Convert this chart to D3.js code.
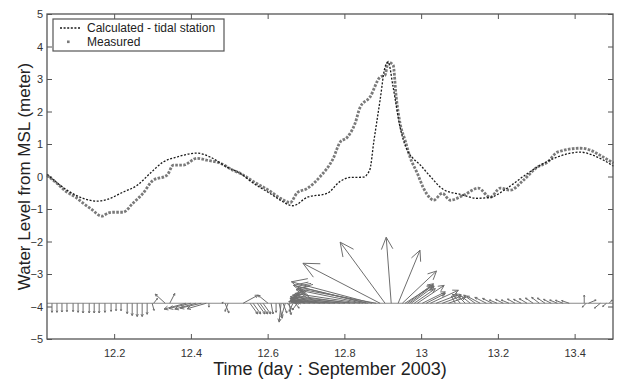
<!DOCTYPE html>
<html>
<head>
<meta charset="utf-8">
<script src="https://cdn.jsdelivr.net/npm/d3@7"></script>
<style>
  body { margin: 0; background: #fff; }
  svg { display: block; font-family: "Liberation Sans", Arial, sans-serif; }
</style>
</head>
<body>
<div id="chart"></div>
<script>
// time in days (September 2003), water level in metres
const calcTime = [12.025, 12.077, 12.119, 12.155, 12.181, 12.223, 12.260, 12.294, 12.327, 12.364, 12.416, 12.450, 12.494, 12.528, 12.562, 12.606, 12.633, 12.666, 12.703, 12.755, 12.789, 12.815, 12.849, 12.866, 12.877, 12.893, 12.906, 12.914, 12.927, 12.945, 12.964, 12.979, 12.998, 13.024, 13.058, 13.102, 13.146, 13.180, 13.224, 13.266, 13.311, 13.355, 13.415, 13.449, 13.501];
const calcLevel = [0.07, -0.42, -0.67, -0.76, -0.71, -0.48, -0.27, 0.10, 0.44, 0.60, 0.72, 0.60, 0.29, 0.10, -0.20, -0.52, -0.73, -0.90, -0.64, -0.52, -0.15, -0.03, -0.02, 0.20, 1.10, 2.35, 3.37, 3.52, 2.75, 1.52, 0.80, 0.56, 0.35, 0.0, -0.40, -0.55, -0.67, -0.64, -0.36, 0.0, 0.35, 0.60, 0.75, 0.65, 0.32];

const measTime = [12.025, 12.050, 12.077, 12.100, 12.119, 12.140, 12.168, 12.185, 12.197, 12.223, 12.249, 12.275, 12.301, 12.338, 12.354, 12.380, 12.416, 12.442, 12.476, 12.510, 12.528, 12.562, 12.606, 12.633, 12.659, 12.677, 12.703, 12.737, 12.771, 12.789, 12.807, 12.828, 12.841, 12.867, 12.893, 12.906, 12.914, 12.927, 12.935, 12.945, 12.958, 12.971, 12.990, 13.005, 13.024, 13.032, 13.055, 13.076, 13.110, 13.149, 13.180, 13.206, 13.232, 13.266, 13.303, 13.329, 13.355, 13.415, 13.441, 13.467, 13.501];
const measLevel = [0.04, -0.20, -0.48, -0.64, -0.82, -1.00, -1.22, -1.12, -1.10, -1.10, -0.82, -0.52, -0.12, 0.04, 0.35, 0.35, 0.56, 0.50, 0.41, 0.19, 0.10, -0.15, -0.45, -0.67, -0.80, -0.50, -0.37, 0.0, 0.56, 1.06, 1.20, 1.64, 2.13, 2.45, 3.06, 3.12, 3.52, 3.43, 2.45, 1.64, 1.12, 0.60, 0.10, -0.33, -0.67, -0.73, -0.52, -0.73, -0.58, -0.36, -0.64, -0.36, -0.42, -0.12, 0.29, 0.44, 0.75, 0.87, 0.81, 0.65, 0.41];

// stick plot: origin time, x component (days), y component (m), drawn about a base level
const stickBase = -3.9;
const stickTime = [12.038, 12.051, 12.064, 12.077, 12.093, 12.106, 12.119, 12.135, 12.148, 12.161, 12.176, 12.192, 12.205, 12.218, 12.234, 12.247, 12.260, 12.273, 12.286, 12.299, 12.303,
  12.333, 12.345, 12.387, 12.400, 12.413, 12.427, 12.440, 12.447, 12.481, 12.489, 12.497,
  12.536, 12.554, 12.562, 12.573, 12.580, 12.588, 12.601, 12.609, 12.622,
  12.630, 12.635, 12.640, 12.646, 12.651, 12.656, 12.661, 12.666, 12.672, 12.677,
  12.685, 12.698, 12.711, 12.724, 12.737, 12.750, 12.763, 12.776, 12.789, 12.802, 12.815, 12.828, 12.841, 12.849, 12.857, 12.862, 12.872, 12.883,
  12.893, 12.906, 12.922, 12.940, 12.951, 12.958, 12.964, 12.969, 12.974, 12.982, 12.990, 13.003, 13.013, 13.024, 13.039, 13.055, 13.071,
  13.089, 13.102, 13.115, 13.128, 13.141, 13.154, 13.170, 13.185,
  13.198, 13.214, 13.229, 13.245, 13.261, 13.276, 13.292, 13.308, 13.323, 13.339, 13.355, 13.370, 13.386,
  13.425, 13.430, 13.436, 13.467, 13.483, 13.490];
const stickU = [0, 0, 0, 0, 0, 0, 0, 0, 0, 0, 0, 0, 0, 0, 0, 0, 0, 0, 0, 0.005, 0.010,
  -0.026, 0.013, -0.057, -0.057, -0.055, -0.055, -0.050, 0, 0.003, 0.010, -0.008,
  0.039, 0.020, 0.020, 0.020, 0.020, 0.020, -0.026, 0.005, 0,
  0.008, -0.005, 0.010, -0.010, 0.015, 0.005, 0.020, -0.010, 0.010, -0.012,
  -0.030, -0.040, -0.050, -0.065, -0.075, -0.090, -0.105, -0.115, -0.130, -0.140, -0.150, -0.160, -0.170, -0.175, -0.180, -0.195, -0.210, -0.205,
  -0.201, -0.117, -0.013, 0.057, 0.089, 0.073, 0.068, 0.063, 0.060, 0.055, 0.070, 0.060, 0.050, 0.073, 0.055, 0.050, 0.045,
  -0.010, -0.020, -0.025, -0.030, -0.030, -0.035, -0.030, -0.025,
  -0.020, -0.020, -0.020, -0.020, -0.020, -0.020, -0.020, -0.020, -0.020, -0.020, -0.020, -0.020, -0.020,
  0.000, -0.010, 0.020, -0.015, -0.010, 0.008];
const stickV = [-0.28, -0.28, -0.27, -0.26, -0.26, -0.28, -0.30, -0.30, -0.30, -0.30, -0.28, -0.25, -0.23, -0.23, -0.32, -0.38, -0.41, -0.41, -0.34, -0.22, 0.15,
  0.28, 0.30, -0.18, -0.16, -0.18, -0.15, -0.17, -0.12, 0.03, -0.30, -0.25,
  0.25, -0.33, -0.33, -0.33, -0.33, -0.33, 0.25, -0.33, -0.28,
  -0.46, -0.58, -0.30, -0.40, -0.20, -0.35, 0.30, -0.25, -0.15, -0.20,
  0.05, 0.08, 0.06, 0.10, 0.12, 0.08, 0.15, 0.10, 0.20, 0.15, 0.25, 0.20, 0.30, 0.42, 0.52, 0.55, 0.66, 0.45,
  1.23, 1.88, 2.03, 1.63, 0.99, 0.55, 0.60, 0.56, 0.52, 0.45, 0.55, 0.35, 0.30, 0.40, 0.25, 0.22, 0.18,
  0.22, 0.28, 0.30, 0.28, 0.25, 0.22, 0.18, 0.15,
  0.10, 0.12, 0.10, 0.13, 0.12, 0.14, 0.16, 0.18, 0.16, 0.12, 0.10, 0.09, 0.08,
  0.25, -0.12, 0.10, -0.15, -0.10, 0.10];

const xTicks = [12.2, 12.4, 12.6, 12.8, 13, 13.2, 13.4];
const yTicks = [-5, -4, -3, -2, -1, 0, 1, 2, 3, 4, 5];

const width = 621, height = 383;
const margin = { top: 14, right: 8, bottom: 44, left: 47 };

const svg = d3.select('#chart').append('svg')
  .attr('width', width)
  .attr('height', height);

const x = d3.scaleLinear().domain([12.025, 13.5]).range([margin.left, width - margin.right]);
const y = d3.scaleLinear().domain([-5, 5]).range([height - margin.bottom, margin.top]);

const axisColor = '#555';

// ticks inside the box on all four sides
svg.append('g')
  .attr('transform', `translate(0, ${y(-5)})`)
  .call(d3.axisBottom(x).tickValues(xTicks).tickSizeInner(-5).tickSizeOuter(0).tickPadding(10).tickFormat(d3.format('')))
  .call(g => g.select('.domain').remove());
svg.append('g')
  .attr('transform', `translate(0, ${y(5)})`)
  .call(d3.axisTop(x).tickValues(xTicks).tickSizeInner(-5).tickSizeOuter(0).tickFormat(''))
  .call(g => g.select('.domain').remove());
svg.append('g')
  .attr('transform', `translate(${x.range()[0]}, 0)`)
  .call(d3.axisLeft(y).tickValues(yTicks).tickSizeInner(-5).tickSizeOuter(0).tickPadding(4).tickFormat(d3.format('d')))
  .call(g => g.select('.domain').remove());
svg.append('g')
  .attr('transform', `translate(${x.range()[1]}, 0)`)
  .call(d3.axisRight(y).tickValues(yTicks).tickSizeInner(-5).tickSizeOuter(0).tickFormat(''))
  .call(g => g.select('.domain').remove());

svg.selectAll('.tick line').attr('stroke', axisColor).attr('stroke-width', 1);
svg.selectAll('.tick text')
  .attr('fill', '#333')
  .style('font-size', '11px')
  .style('font-family', '"Liberation Sans", Arial, sans-serif');

// stick base line
svg.append('line')
  .attr('x1', x.range()[0]).attr('x2', x.range()[1])
  .attr('y1', y(stickBase)).attr('y2', y(stickBase))
  .attr('stroke', '#8a8a8a')
  .attr('stroke-width', 1);

// arrows
const sticks = stickTime.map((t, i) => ({ t: t, u: stickU[i], v: stickV[i] }));

function arrowPath(d) {
  const x0 = x(d.t), y0 = y(stickBase);
  const x1 = x(d.t + d.u), y1 = y(stickBase + d.v);
  const dx = x1 - x0, dy = y1 - y0;
  const len = Math.sqrt(dx * dx + dy * dy);
  if (len === 0) return '';
  const ang = Math.atan2(dy, dx);
  const head = Math.max(1.5, len * 0.2);
  const a1 = ang + Math.PI - 0.45, a2 = ang + Math.PI + 0.45;
  return `M${x0},${y0}L${x1},${y1}` +
    `M${x1 + head * Math.cos(a1)},${y1 + head * Math.sin(a1)}L${x1},${y1}` +
    `L${x1 + head * Math.cos(a2)},${y1 + head * Math.sin(a2)}`;
}

svg.append('g')
  .selectAll('path')
  .data(sticks)
  .join('path')
  .attr('d', arrowPath)
  .attr('fill', 'none')
  .attr('stroke', '#6e6e6e')
  .attr('stroke-width', 1);

// water level series
const measured = measTime.map((t, i) => ({ t: t, v: measLevel[i] }));
const calculated = calcTime.map((t, i) => ({ t: t, v: calcLevel[i] }));

const line = d3.line()
  .x(d => x(d.t))
  .y(d => y(d.v))
  .curve(d3.curveMonotoneX);

svg.append('path')
  .datum(measured)
  .attr('d', line)
  .attr('fill', 'none')
  .attr('stroke', '#7a7a7a')
  .attr('stroke-width', 2.8)
  .attr('stroke-dasharray', '2.6,1.4');

svg.append('path')
  .datum(calculated)
  .attr('d', line)
  .attr('fill', 'none')
  .attr('stroke', '#1a1a1a')
  .attr('stroke-width', 1.3)
  .attr('stroke-dasharray', '2,1.6');

// box
svg.append('rect')
  .attr('x', x.range()[0])
  .attr('y', y(5))
  .attr('width', x.range()[1] - x.range()[0])
  .attr('height', y(-5) - y(5))
  .attr('fill', 'none')
  .attr('stroke', axisColor)
  .attr('stroke-width', 1.3);

// legend
const legend = svg.append('g').attr('transform', 'translate(53, 19)');
legend.append('rect')
  .attr('width', 171).attr('height', 32)
  .attr('fill', '#fff')
  .attr('stroke', axisColor)
  .attr('stroke-width', 1.2);
legend.append('line')
  .attr('x1', 7).attr('x2', 28).attr('y1', 9).attr('y2', 9)
  .attr('stroke', '#1a1a1a').attr('stroke-width', 1.3)
  .attr('stroke-dasharray', '2,1.6');
legend.append('rect')
  .attr('x', 14).attr('y', 21.5).attr('width', 2.6).attr('height', 2.6)
  .attr('fill', '#7a7a7a');
legend.append('text')
  .attr('x', 34).attr('y', 13)
  .attr('fill', '#222')
  .style('font-size', '12px')
  .text('Calculated - tidal station');
legend.append('text')
  .attr('x', 34).attr('y', 27)
  .attr('fill', '#222')
  .style('font-size', '12px')
  .text('Measured');

// axis titles
svg.append('text')
  .attr('x', (x.range()[0] + x.range()[1]) / 2)
  .attr('y', 375)
  .attr('text-anchor', 'middle')
  .attr('fill', '#222')
  .style('font-size', '18px')
  .text('Time (day : September 2003)');

svg.append('text')
  .attr('transform', `translate(30, ${y(0)}) rotate(-90)`)
  .attr('text-anchor', 'middle')
  .attr('fill', '#222')
  .style('font-size', '17px')
  .text('Water Level from MSL (meter)');
</script>
</body>
</html>
